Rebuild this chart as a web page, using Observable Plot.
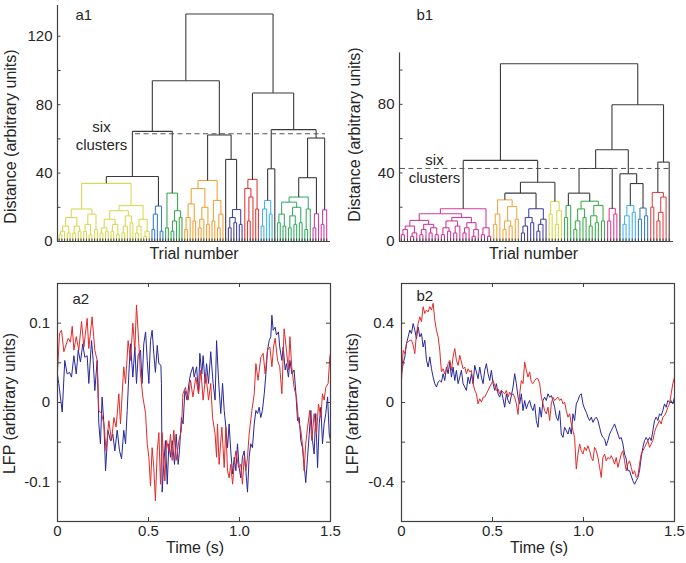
<!DOCTYPE html>
<html><head><meta charset="utf-8">
<script src="https://cdn.jsdelivr.net/npm/d3@7"></script>
<script src="https://cdn.jsdelivr.net/npm/@observablehq/plot@0.6"></script>
<style>
body{margin:0;background:#fff;}
#wrap{position:relative;width:686px;height:563px;overflow:hidden;background:#fff;}
#wrap svg{position:absolute;overflow:visible;}
</style></head><body><div id="wrap"></div>
<script>
// ---------- DATA ----------
// Dendrogram a1: node = [height, left, right]; leaf = 0; string = coloured cluster
const a1Tree = [133, [94, [64.4, [38, "yellow", "blue"], "green"], [62.3, "orange", [48, 0, "navy"]]],
                     [86.8, "red", [65.4, [42.5, "cyan", 0], [60.5, [37.3, "green2", "magenta1"], "magenta2"]]]];
const a1Yellow = [34, [19, [14, [9,[6,[4,0,0],0],[5,0,0]], [9,[5,0,0],[6,0,0]]], [16, [10,[6,0,0],[4,0,0]], [7,0,0]]],
                      [21, [18, [13,[8,[5,0,0],[6,0,0]],[10,[6,0,0],[4,0,0]]], [15,[9,[5,0,0],0],[11,0,0]]], [13,[9,[5,0,0],0],[6,[3,0,0],0]]]];
const a1Blue = [20.7, [16, [7,0,0], 0], [6,0,0]];
const a1Green = [28.3, [8,0,0], [18, [12,[6,0,0],0], [14,0,0]]];
const a1Orange = [35.7, [31, [22,[14,[7,0,0],0],[12,0,0]], [20,[13,[8,0,0],0],[10,0,0]]], [24,[12,0,0],[16,[8,0,0],0]]];
const a1Navy = [18.7, [14, [8,0,0], [11,0,0]], [10,0,0]];
const a1Red = [36.3, [31, 0, [26, [12,0,0], 0]], [19,0,0]];
const a1Cyan = [24, [19, [9,0,0], 0], [16,0,0]];
const a1Green2 = [26, [23, [16,[11,0,0],[9,0,0]], [20,[15,[8,0,0],[10,0,0]],[11,0,0]]], [19,[7,0,0],0]];
const a1Magenta1 = [16.2, [8,0,0], 0];
const a1Magenta2 = [18.5, [10,0,0], 0];
const a1Cut = 63;
const a1Ticks = [0, 20, 40, 60, 80, 100, 120];
const a1Labels = [0, 40, 80, 120];

// Dendrogram b1
const b1Tree = [103.7, [47.3, "magenta", [34.6, [28.2, "orange", "navy"], "yellow"]],
                       [79.8, [53.5, [42.6, [28.2, "greenA", "greenB"], "magenta2"], [39.5, 0, [33.8, "cyan", "blue"]]], [46.3, "red", 0]]];
const b1Magenta = [19.1, [16.2, [12.3,[9,[7,[4,0,0],0],[5,[3,0,0],0]],[10,[7,[4,0,0],0],[8,[5,0,0],[4,0,0]]]],
                               [14,[12,[8,[4,0,0],[6,0,0]],[9,[5,0,0],0]],[11,[8,[5,0,0],0],[7,[3,0,0],0]]]], [8,[4,0,0],[3,0,0]]];
const b1Orange = [24.3, [16,[10,0,0],0], [20.4,[12,[7,0,0],[9,0,0]],[13,0,0]]];
const b1Navy = [19.1, [14,[9,[5,0,0],0],[11,0,0]], [13,[10,[6,0,0],0],0]];
const b1Yellow = [23.4, [16,0,0], [18,[10,0,0],0]];
const b1GreenA = [21, [14,0,0], 0];
const b1GreenB = [23.5, [19,[12,[7,0,0],0],[14,0,0]], [21,[15,[9,0,0],[11,0,0]],[12,0,0]]];
const b1Magenta2 = [19.3, [12,0,0], [16,0,0]];
const b1Cyan = [21, [15,[10,0,0],0], [17,0,0]];
const b1Blue = [19.5, [13,0,0], [15,0,0]];
const b1Red = [28.6, [20,0,0], [25.9,[17,[12,0,0],0],0]];
const b1Cut = 42.6;
const b1Ticks = [0, 20, 40, 60, 80, 100];
const b1Labels = [0, 40, 80];

// LFP a2: [time (s), value]
const a2Red = [[0,0.038],[0.011,0.087],[0.022,0.091],[0.035,0.064],[0.059,0.081],[0.071,0.076],[0.081,0.096],[0.090,0.066],[0.103,0.083],[0.117,0.066],[0.132,0.102],[0.145,0.070],[0.163,0.106],[0.172,0.068],[0.190,0.108],[0.205,0.066],[0.218,0.053],[0.227,-0.010],[0.242,-0.014],[0.255,-0.027],[0.267,-0.061],[0.282,-0.023],[0.297,-0.048],[0.310,-0.019],[0.322,-0.031],[0.337,0.011],[0.346,-0.027],[0.364,0.045],[0.374,0.024],[0.388,0.078],[0.401,0.053],[0.414,0.100],[0.425,0.066],[0.434,0.123],[0.447,0.074],[0.456,0.036],[0.469,0.007],[0.484,-0.014],[0.493,-0.052],[0.502,-0.069],[0.511,-0.105],[0.520,-0.057],[0.529,-0.082],[0.538,-0.124],[0.548,-0.061],[0.557,-0.038],[0.566,-0.103],[0.575,-0.038],[0.590,-0.099],[0.599,-0.048],[0.612,-0.061],[0.621,-0.040],[0.630,-0.073],[0.639,-0.035],[0.652,-0.073],[0.667,-0.048],[0.681,-0.035],[0.689,0.011],[0.703,0.019],[0.718,0.003],[0.731,0.028],[0.744,0.007],[0.760,0.032],[0.775,0.011],[0.788,0.041],[0.800,0.003],[0.815,0.036],[0.830,0.003],[0.842,0.024],[0.852,-0.019],[0.866,-0.040],[0.874,-0.069],[0.879,-0.027],[0.888,-0.078],[0.903,-0.031],[0.916,-0.082],[0.925,-0.031],[0.934,-0.086],[0.943,-0.095],[0.952,-0.078],[0.962,-0.103],[0.971,-0.078],[0.980,-0.061],[0.995,-0.082],[1.007,-0.078],[1.016,-0.103],[1.026,-0.069],[1.035,-0.086],[1.044,-0.069],[1.053,-0.040],[1.068,-0.010],[1.081,0.011],[1.090,0.049],[1.102,0.028],[1.117,0.057],[1.130,0.062],[1.141,0.036],[1.154,0.066],[1.167,0.070],[1.178,0.045],[1.187,0.070],[1.196,0.081],[1.209,0.053],[1.221,0.045],[1.233,0.011],[1.245,0.093],[1.258,0.066],[1.269,0.041],[1.277,0.083],[1.287,0.045],[1.300,0.019],[1.313,0.007],[1.324,-0.023],[1.337,-0.035],[1.348,-0.057],[1.355,-0.086],[1.364,-0.052],[1.374,-0.031],[1.386,-0.010],[1.397,-0.048],[1.410,-0.014],[1.423,-0.040],[1.434,-0.002],[1.447,-0.019],[1.456,0.011],[1.465,0.003],[1.474,0.019],[1.487,0.024],[1.496,0.057],[1.500,0.062]];
const a2Blue = [[0,0.035],[0.007,0.024],[0.026,-0.012],[0.040,0.053],[0.053,0.036],[0.066,0.038],[0.077,0.032],[0.090,0.059],[0.103,0.036],[0.114,0.066],[0.126,0.051],[0.139,0.074],[0.150,0.057],[0.163,0.059],[0.172,0.024],[0.187,0.078],[0.196,0.053],[0.205,0.015],[0.218,0.053],[0.227,-0.027],[0.236,-0.052],[0.245,0.007],[0.255,-0.027],[0.264,-0.086],[0.277,-0.035],[0.291,-0.048],[0.304,-0.040],[0.315,-0.061],[0.328,-0.035],[0.341,-0.061],[0.352,-0.071],[0.364,-0.035],[0.374,-0.052],[0.383,-0.010],[0.392,0.036],[0.401,0.074],[0.414,0.032],[0.425,0.070],[0.434,0.024],[0.443,0.059],[0.456,0.066],[0.465,0.024],[0.474,0.074],[0.484,0.089],[0.493,0.053],[0.502,0.024],[0.511,0.078],[0.520,0.091],[0.529,0.062],[0.538,0.038],[0.548,0.072],[0.557,0.049],[0.568,0.047],[0.571,0.024],[0.575,-0.113],[0.584,-0.078],[0.593,-0.048],[0.603,-0.103],[0.612,-0.052],[0.621,-0.069],[0.630,-0.048],[0.643,-0.078],[0.652,-0.040],[0.663,-0.078],[0.670,-0.061],[0.681,-0.019],[0.690,-0.027],[0.700,0.015],[0.712,0.003],[0.722,0.024],[0.731,0.036],[0.744,0.045],[0.751,0.032],[0.764,0.045],[0.775,0.011],[0.782,0.062],[0.793,0.036],[0.800,0.059],[0.811,0.024],[0.819,0.049],[0.830,0.024],[0.842,0.064],[0.855,0.024],[0.866,0.003],[0.874,0.078],[0.885,0.028],[0.897,-0.014],[0.907,0.024],[0.916,-0.010],[0.925,-0.031],[0.934,-0.057],[0.943,-0.027],[0.952,-0.061],[0.962,-0.090],[0.971,-0.069],[0.980,-0.086],[0.989,-0.052],[0.998,-0.082],[1.007,-0.095],[1.016,-0.069],[1.026,-0.061],[1.035,-0.086],[1.044,-0.113],[1.053,-0.069],[1.062,-0.052],[1.071,-0.057],[1.081,-0.027],[1.090,-0.010],[1.099,-0.014],[1.108,-0.006],[1.117,-0.019],[1.126,-0.010],[1.136,0.011],[1.145,0.036],[1.154,0.066],[1.163,0.078],[1.172,0.083],[1.178,0.110],[1.185,0.091],[1.196,0.095],[1.203,0.085],[1.214,0.089],[1.221,0.070],[1.233,0.053],[1.240,0.070],[1.251,0.041],[1.258,0.049],[1.269,0.032],[1.277,0.053],[1.288,0.036],[1.300,0.041],[1.310,0.011],[1.319,-0.023],[1.328,-0.019],[1.337,-0.048],[1.346,-0.057],[1.355,-0.078],[1.364,-0.101],[1.374,-0.069],[1.383,-0.040],[1.392,-0.010],[1.401,-0.048],[1.410,-0.065],[1.419,-0.014],[1.429,-0.082],[1.438,-0.027],[1.447,-0.006],[1.456,-0.052],[1.465,-0.027],[1.474,-0.014],[1.484,0.007],[1.493,-0.040],[1.500,-0.048]];

// LFP b2: values sampled evenly over 0 .. 1.5 s
const b2Red = [0.111,0.263,0.246,0.297,0.305,0.314,0.314,0.289,0.246,0.348,0.398,0.432,0.407,0.483,0.449,0.466,0.457,0.483,0.466,0.500,0.415,0.365,0.331,0.263,0.154,0.170,0.145,0.162,0.196,0.213,0.162,0.230,0.272,0.213,0.187,0.238,0.204,0.170,0.179,0.145,0.170,0.154,0.162,0.095,0.061,0.044,-0.007,0.019,0.002,0.027,0.027,0.044,0.061,0.078,0.095,0.111,0.086,0.061,0.069,0.044,0.061,0.052,0.044,0.061,0.027,0.052,0.035,0.044,0.027,-0.007,-0.060,0.044,0.111,0.095,0.204,0.162,0.128,0.154,0.103,0.095,0.111,0.120,
  0.120,0.095,0.027,-0.007,-0.041,-0.057,-0.024,-0.091,-0.007,0.027,0.010,0.019,0.027,0.010,0.019,-0.007,0.002,-0.041,-0.074,-0.057,-0.108,-0.142,-0.176,-0.336,-0.260,-0.209,-0.243,-0.260,-0.226,-0.243,-0.218,-0.243,-0.277,-0.294,-0.226,-0.243,-0.277,-0.327,-0.378,-0.277,-0.260,-0.294,-0.277,-0.285,-0.268,-0.285,-0.311,-0.277,-0.327,-0.294,-0.260,-0.243,-0.294,-0.344,-0.311,-0.294,-0.327,-0.361,-0.344,-0.378,-0.370,-0.311,-0.260,-0.243,-0.226,-0.209,-0.192,-0.226,-0.209,-0.192,-0.150,-0.125,-0.108,-0.091,-0.108,-0.074,-0.066,-0.049,-0.024,-0.007,0.044,0.095,0.128];
const b2Blue = [0.145,0.196,0.230,0.297,0.331,0.365,0.348,0.398,0.365,0.322,0.381,0.331,0.348,0.280,0.314,0.213,0.179,0.230,0.170,0.128,0.095,0.078,0.103,0.111,0.103,0.145,0.111,0.179,0.145,0.204,0.128,0.179,0.111,0.162,0.095,0.128,0.162,0.095,0.078,0.061,0.128,0.095,0.145,0.095,0.187,0.154,0.120,0.179,0.128,0.095,0.162,0.196,0.145,0.111,0.162,0.095,0.061,0.095,0.044,0.027,0.061,0.019,-0.024,0.044,0.010,-0.007,0.035,0.078,0.145,0.095,0.027,-0.007,0.044,-0.041,0.010,-0.032,-0.007,0.010,-0.024,-0.041,-0.007,-0.091,
  -0.125,-0.024,-0.074,0.010,0.027,0.010,0.044,0.027,0.035,0.010,-0.024,-0.074,-0.091,-0.041,-0.159,-0.176,-0.125,-0.142,-0.159,-0.125,-0.159,-0.057,-0.091,-0.007,0.010,0.035,0.044,-0.007,-0.032,-0.049,-0.074,-0.091,-0.074,-0.100,-0.083,-0.074,-0.091,-0.125,-0.159,-0.176,-0.184,-0.218,-0.192,-0.159,-0.142,-0.125,-0.108,-0.133,-0.159,-0.184,-0.176,-0.209,-0.260,-0.285,-0.344,-0.344,-0.370,-0.395,-0.412,-0.395,-0.378,-0.344,-0.277,-0.226,-0.192,-0.176,-0.192,-0.176,-0.192,-0.142,-0.091,-0.074,-0.091,-0.057,-0.066,-0.041,-0.007,-0.024,0.010,0.002,0.010,-0.007,0.027];

const timeTicks = [0, 0.5, 1, 1.5];
const a2YTicks = [-0.1, -0.05, 0, 0.05, 0.1];
const a2YLabels = [-0.1, 0, 0.1];
const b2YTicks = [-0.4, -0.2, 0, 0.2, 0.4];
const b2YLabels = [-0.4, 0, 0.4];

// ---------- STYLE ----------
const FONT = '"Liberation Sans", Arial, Helvetica, sans-serif';
const INK = "#262626";
const AX = "#404040";
const TOP = "#3a3a3a";
const RED = "#e22a2a";
const BLUE = "#27279a";
const a1Clusters = {yellow: a1Yellow, blue: a1Blue, green: a1Green, orange: a1Orange, navy: a1Navy, red: a1Red,
  cyan: a1Cyan, green2: a1Green2, magenta1: a1Magenta1, magenta2: a1Magenta2};
const a1Palette = {top: TOP, yellow: "#d9d957", blue: "#3d7fd4", green: "#3aaa55", orange: "#f0a43c", navy: "#4646a8",
  red: "#e23c3c", cyan: "#3fb6e8", green2: "#3cae6a", magenta1: "#d040a8", magenta2: "#d040a8"};
const b1Clusters = {magenta: b1Magenta, orange: b1Orange, navy: b1Navy, yellow: b1Yellow, greenA: b1GreenA, greenB: b1GreenB,
  magenta2: b1Magenta2, cyan: b1Cyan, blue: b1Blue, red: b1Red};
const b1Palette = {top: TOP, magenta: "#d43c9e", orange: "#f2aa48", navy: "#4a4aa8", yellow: "#d9d94e", greenA: "#40ae50",
  greenB: "#40ae50", magenta2: "#e0409a", cyan: "#44b8e8", blue: "#3c84cc", red: "#e04848"};

function layoutTree(tree, clusters) {
  const links = [];
  let n = 0;
  (function walk(node, c) {
    if (typeof node === "string") return walk(clusters[node], node);
    if (node === 0) return {x: n++, y: 0};
    const [h, l, r] = node;
    const a = walk(l, c), b = walk(r, c);
    const k = c || "top";
    links.push({x1: a.x, y1: a.y, x2: a.x, y2: h, k},
               {x1: a.x, y1: h, x2: b.x, y2: h, k},
               {x1: b.x, y1: b.y, x2: b.x, y2: h, k});
    return {x: (a.x + b.x) / 2, y: h};
  })(tree, null);
  return {links, n};
}

const svgStyle = {background: "transparent", overflow: "visible", color: INK, fontFamily: FONT, fontSize: "15px"};

function dendro(o) {
  const {links, n} = layoutTree(o.tree, o.clusters);
  const W = o.width - o.ml - o.mr, H = o.height - o.mt - o.mb;
  const t = (s, opt) => Plot.text([s], {text: d => d, fill: INK, ...opt});
  return Plot.plot({
    width: o.width, height: o.height, marginLeft: o.ml, marginRight: o.mr, marginTop: o.mt, marginBottom: o.mb,
    style: svgStyle,
    x: {domain: [-0.6, n + 0.4], axis: null},
    y: {domain: [0, o.yMax]},
    color: {type: "identity"},
    marks: [
      Plot.link(links, {x1: "x1", y1: "y1", x2: "x2", y2: "y2", stroke: d => o.palette[d.k], strokeWidth: 1.1}),
      Plot.ruleY([o.cut], {insetLeft: o.cutL, insetRight: o.cutR, stroke: "#555", strokeWidth: 1, strokeDasharray: "5,3.5"}),
      Plot.ruleX([-0.6], {stroke: AX, strokeWidth: 1.2}),
      Plot.ruleY([0], {stroke: AX, strokeWidth: 1.2}),
      Plot.tickY(o.ticks, {y: d => d, insetRight: W - 3.5, stroke: AX}),
      Plot.tickX(d3.range(n), {x: d => d, insetTop: H - 2.5, stroke: AX}),
      Plot.axisY({ticks: o.labels, tickSize: 0, tickPadding: 5, label: null, fill: INK}),
      t(o.panel, {frameAnchor: "top-left", textAnchor: "start", lineAnchor: "bottom", dx: o.panelDx, dy: o.panelDy, fontSize: 15}),
      t("six", {frameAnchor: "top-left", textAnchor: "middle", lineAnchor: "bottom", dx: o.sixDx, dy: o.sixDy, fontSize: 15}),
      t("clusters", {frameAnchor: "top-left", textAnchor: "middle", lineAnchor: "bottom", dx: o.sixDx, dy: o.sixDy + 18, fontSize: 15}),
      t("Distance (arbitrary units)", {frameAnchor: "left", rotate: -90, textAnchor: "middle", lineAnchor: "middle", dx: o.ylDx, dy: o.ylDy, fontSize: 16}),
      t("Trial number", {frameAnchor: "bottom", textAnchor: "middle", lineAnchor: "bottom", dx: o.xlDx, dy: 17, fontSize: 16})
    ]
  });
}

function lfp(o) {
  const W = o.width - o.ml - o.mr, H = o.height - o.mt - o.mb;
  const t = (s, opt) => Plot.text([s], {text: d => d, fill: INK, ...opt});
  return Plot.plot({
    width: o.width, height: o.height, marginLeft: o.ml, marginRight: o.mr, marginTop: o.mt, marginBottom: o.mb,
    style: svgStyle,
    x: {domain: [0, 1.5]},
    y: {domain: o.yDomain},
    marks: [
      Plot.line(o.blue, {x: o.fx, y: o.fy, stroke: BLUE, strokeWidth: 1}),
      Plot.line(o.red, {x: o.fx, y: o.fy, stroke: RED, strokeWidth: 1}),
      Plot.frame({stroke: AX, strokeWidth: 1.2}),
      Plot.tickY(o.yTicks, {y: d => d, insetRight: W - 4, stroke: AX}),
      Plot.tickY(o.yTicks, {y: d => d, insetLeft: W - 4, stroke: AX}),
      Plot.tickX(timeTicks, {x: d => d, insetTop: H - 4, stroke: AX}),
      Plot.tickX(timeTicks, {x: d => d, insetBottom: H - 4, stroke: AX}),
      Plot.axisY({ticks: o.yLabels, tickSize: 0, tickPadding: 7.5, label: null, tickFormat: d => String(d), fill: INK}),
      Plot.axisX({ticks: timeTicks, tickSize: 0, tickPadding: 3.5, label: null, tickFormat: d => d === 0 ? "0" : d.toFixed(1), fill: INK}),
      t(o.panel, {frameAnchor: "top-left", textAnchor: "start", lineAnchor: "bottom", dx: 15, dy: o.panelDy, fontSize: 15}),
      t("LFP (arbitrary units)", {frameAnchor: "left", rotate: -90, textAnchor: "middle", lineAnchor: "middle", dx: o.ylDx, dy: 1, fontSize: 16}),
      t("Time (s)", {frameAnchor: "bottom", textAnchor: "middle", lineAnchor: "bottom", dx: 1, dy: 31, fontSize: 16})
    ]
  });
}

const wrap = document.getElementById("wrap");
function place(svg, left, top) { svg.style.left = left + "px"; svg.style.top = top + "px"; wrap.appendChild(svg); }

place(dendro({tree: a1Tree, clusters: a1Clusters, palette: a1Palette, width: 343, height: 260, ml: 57, mr: 13, mt: 5, mb: 19,
  yMax: 138, ticks: a1Ticks, labels: a1Labels, cut: a1Cut, cutL: 78, cutR: 5, panel: "a1", panelDx: 18, panelDy: 14,
  sixDx: 44, sixDy: 126, ylDx: -47, ylDy: 13, xlDx: 0}), 0, 0);

place(dendro({tree: b1Tree, clusters: b1Clusters, palette: b1Palette, width: 343, height: 260, ml: 56, mr: 13, mt: 52.4, mb: 19,
  yMax: 110, ticks: b1Ticks, labels: b1Labels, cut: b1Cut, cutL: 1, cutR: 2, panel: "b1", panelDx: 17, panelDy: -33.4,
  sixDx: 35, sixDy: 111.6, ylDx: -45, ylDy: -12.7, xlDx: -3}), 343, 0);

const fx = d => d[0], fy = d => d[1];
const step = 1.5 / (b2Red.length - 1);
place(lfp({red: a2Red, blue: a2Blue, fx, fy, width: 343, height: 303, ml: 57, mr: 13, mt: 23, mb: 42,
  yDomain: [-0.15, 0.15], yTicks: a2YTicks, yLabels: a2YLabels, panel: "a2", panelDy: 20, ylDx: -47.5}), 0, 260);

place(lfp({red: b2Red, blue: b2Blue, fx: (d, i) => i * step, fy: d => d, width: 343, height: 303, ml: 58, mr: 12, mt: 23, mb: 42,
  yDomain: [-0.6, 0.6], yTicks: b2YTicks, yLabels: b2YLabels, panel: "b2", panelDy: 17, ylDx: -49}), 343, 260);
</script></body></html>
